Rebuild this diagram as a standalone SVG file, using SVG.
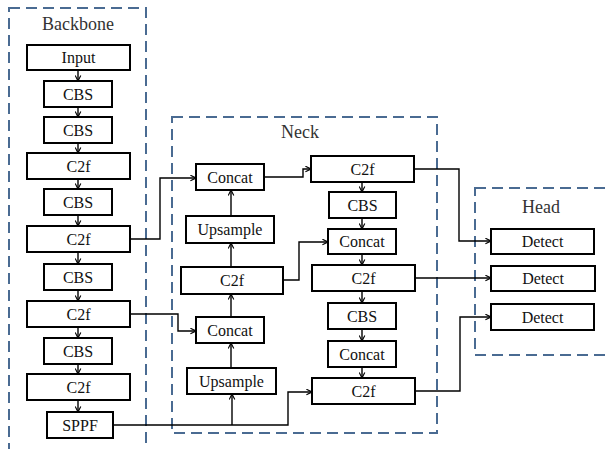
<svg xmlns="http://www.w3.org/2000/svg" width="611" height="449" viewBox="0 0 611 449">
<defs>
<marker id="arr" viewBox="0 0 10 10" refX="9" refY="5" markerWidth="7" markerHeight="7" markerUnits="userSpaceOnUse" orient="auto">
<polyline points="1,1 9,5 1,9" fill="none" stroke="#000" stroke-width="1.6"/>
</marker>
<style>
.grp{fill:none;stroke:#4a6b92;stroke-width:2;stroke-dasharray:11 6}
.box{fill:#fff;stroke:#000;stroke-width:2}
.t{font-family:"Liberation Serif","Times New Roman",serif;font-size:16px;fill:#111;text-anchor:middle}
.title{font-family:"Liberation Serif","Times New Roman",serif;font-size:18px;fill:#333;text-anchor:middle}
.c{fill:none;stroke:#000;stroke-width:1.4;marker-end:url(#arr)}
</style>
</defs>
<rect width="611" height="449" fill="#fff"/>
<g id="groups">
<rect class="grp" x="9" y="8" width="137" height="460"/>
<text class="title" x="78" y="30">Backbone</text>
<rect class="grp" x="172" y="117" width="265" height="316"/>
<text class="title" x="300" y="138">Neck</text>
<rect class="grp" x="475" y="188" width="160" height="167"/>
<text class="title" x="541" y="213">Head</text>
</g>
<g id="connectors">
<path class="c" d="M78,70 V81"/>
<path class="c" d="M78,107 V117"/>
<path class="c" d="M78,143 V153"/>
<path class="c" d="M78,179 V189"/>
<path class="c" d="M78,215 V226"/>
<path class="c" d="M78,252 V264"/>
<path class="c" d="M78,290 V301"/>
<path class="c" d="M78,327 V338"/>
<path class="c" d="M78,364 V374"/>
<path class="c" d="M78,400 V412"/>
<path class="c" d="M130,239 H160 V178 H196"/>
<path class="c" d="M130,314 H178 V331 H196"/>
<path class="c" d="M113,425 H288 V392 H312"/>
<path class="c" d="M232,425 V394"/>
<path class="c" d="M231,368 V343"/>
<path class="c" d="M231,317 V294"/>
<path class="c" d="M231,267 V243"/>
<path class="c" d="M231,216 V190"/>
<path class="c" d="M264,177 H303 V169 H311"/>
<path class="c" d="M283,280 H299 V242 H328"/>
<path class="c" d="M362,182 V192"/>
<path class="c" d="M362,218 V229"/>
<path class="c" d="M362,254 V265"/>
<path class="c" d="M362,291 V303"/>
<path class="c" d="M362,329 V341"/>
<path class="c" d="M362,367 V378"/>
<path class="c" d="M414,169 H459 V241 H491"/>
<path class="c" d="M415,278 H491"/>
<path class="c" d="M415,391 H460 V317 H491"/>
</g>
<g id="input"><rect class="box" x="27" y="45" width="103" height="25"/><text class="t" x="78.5" y="63">Input</text></g>
<g id="cbs1"><rect class="box" x="44" y="81" width="68" height="26"/><text class="t" x="78" y="99.5">CBS</text></g>
<g id="cbs2"><rect class="box" x="44" y="117" width="68" height="26"/><text class="t" x="78" y="135.5">CBS</text></g>
<g id="c2f1"><rect class="box" x="27" y="153" width="103" height="26"/><text class="t" x="78.5" y="171.5">C2f</text></g>
<g id="cbs3"><rect class="box" x="44" y="189" width="68" height="26"/><text class="t" x="78" y="207.5">CBS</text></g>
<g id="c2f2"><rect class="box" x="27" y="226" width="103" height="26"/><text class="t" x="78.5" y="244.5">C2f</text></g>
<g id="cbs4"><rect class="box" x="44" y="264" width="68" height="26"/><text class="t" x="78" y="282.5">CBS</text></g>
<g id="c2f3"><rect class="box" x="27" y="301" width="103" height="26"/><text class="t" x="78.5" y="319.5">C2f</text></g>
<g id="cbs5"><rect class="box" x="44" y="338" width="68" height="26"/><text class="t" x="78" y="356.5">CBS</text></g>
<g id="c2f4"><rect class="box" x="27" y="374" width="103" height="26"/><text class="t" x="78.5" y="392.5">C2f</text></g>
<g id="sppf"><rect class="box" x="47" y="412" width="66" height="26"/><text class="t" x="80" y="430.5">SPPF</text></g>
<g id="concatA"><rect class="box" x="196" y="164" width="68" height="26"/><text class="t" x="230" y="182.5">Concat</text></g>
<g id="upsampleA"><rect class="box" x="186" y="216" width="88" height="27"/><text class="t" x="230" y="235">Upsample</text></g>
<g id="c2fA"><rect class="box" x="181" y="267" width="102" height="27"/><text class="t" x="232" y="286">C2f</text></g>
<g id="concatB"><rect class="box" x="196" y="317" width="68" height="26"/><text class="t" x="230" y="335.5">Concat</text></g>
<g id="upsampleB"><rect class="box" x="187" y="368" width="89" height="26"/><text class="t" x="231.5" y="386.5">Upsample</text></g>
<g id="c2fR1"><rect class="box" x="311" y="156" width="103" height="26"/><text class="t" x="362.5" y="174.5">C2f</text></g>
<g id="cbsR1"><rect class="box" x="329" y="192" width="67" height="26"/><text class="t" x="362.5" y="210.5">CBS</text></g>
<g id="concatR1"><rect class="box" x="328" y="229" width="68" height="25"/><text class="t" x="362" y="247">Concat</text></g>
<g id="c2fR2"><rect class="box" x="312" y="265" width="103" height="26"/><text class="t" x="363.5" y="283.5">C2f</text></g>
<g id="cbsR2"><rect class="box" x="328" y="303" width="68" height="26"/><text class="t" x="362" y="321.5">CBS</text></g>
<g id="concatR2"><rect class="box" x="328" y="341" width="68" height="26"/><text class="t" x="362" y="359.5">Concat</text></g>
<g id="c2fR3"><rect class="box" x="312" y="378" width="103" height="26"/><text class="t" x="363.5" y="396.5">C2f</text></g>
<g id="detect1"><rect class="box" x="491" y="229" width="103" height="25"/><text class="t" x="542.5" y="247">Detect</text></g>
<g id="detect2"><rect class="box" x="491" y="266" width="104" height="25"/><text class="t" x="543" y="284">Detect</text></g>
<g id="detect3"><rect class="box" x="491" y="304" width="103" height="26"/><text class="t" x="542.5" y="322.5">Detect</text></g>
</svg>
